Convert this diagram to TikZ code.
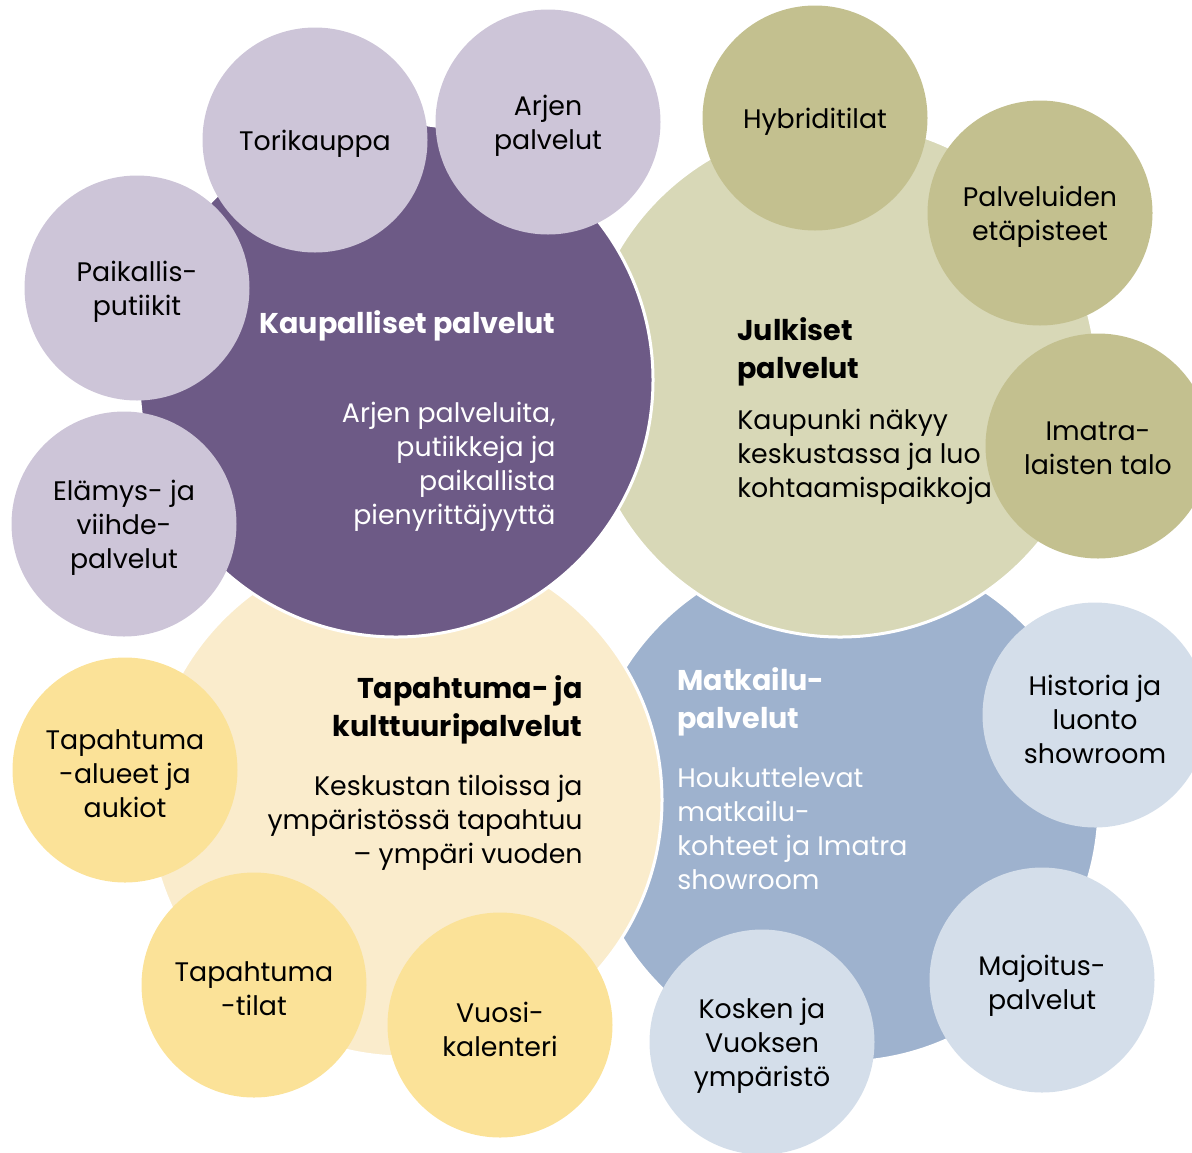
\documentclass[tikz,border=0pt]{standalone}
\usepackage{fontspec}
\setmainfont{Poppins}
\usepackage{xcolor}
\usetikzlibrary{positioning,shapes}

\definecolor{kaupDark}{RGB}{109,90,134}
\definecolor{kaupLight}{RGB}{205,197,216}
\definecolor{julkLight}{RGB}{216,216,183}
\definecolor{julkDark}{RGB}{195,192,143}
\definecolor{tapaLight}{RGB}{250,236,204}
\definecolor{tapaDark}{RGB}{251,226,152}
\definecolor{matkMid}{RGB}{158,178,206}
\definecolor{matkPale}{RGB}{212,222,234}

\begin{document}
\begin{tikzpicture}[x=0.5pt,y=-0.5pt,
  every node/.style={font=\fontsize{13.4}{17}\selectfont,inner sep=0pt}
]

\tikzstyle{big style}=[circle,draw=white,line width=1.5pt,minimum size=257pt,inner sep=0pt]
\tikzstyle{small style}=[circle,minimum size=112.5pt,inner sep=0pt]
\tikzset{small text/.style={align=center,yshift=-2pt},
  title style/.style={font=\fontsize{14.3}{19.2}\selectfont\bfseries}}

\useasboundingbox (0,0) rectangle (1192,1152);
\clip (0,0) rectangle (1192,1152);

% big circles, back to front
\node[big style,fill=matkMid]   (c4) at (842,805) {};
\node[big style,fill=tapaLight] (c3) at (405,800) {};
\node[big style,fill=julkLight] (c2) at (840,380) {};
\node[big style,fill=kaupDark]  (c1) at (396,380) {};

% small circles
\node[small style,fill=kaupLight,label={[small text]center:Paikallis-\\putiikit}]           (s1)  at (137,288)  {};
\node[small style,fill=kaupLight,label={[small text]center:Torikauppa}]                     (s2)  at (315,140)  {};
\node[small style,fill=kaupLight,label={[small text]center:Arjen\\palvelut}]                (s3)  at (548,122)  {};
\node[small style,fill=kaupLight,label={[small text]center:Elämys- ja\\viihde-\\palvelut}]  (s4)  at (124,524)  {};
\node[small style,fill=julkDark,label={[small text]center:Hybriditilat}]                    (s5)  at (815,118)  {};
\node[small style,fill=julkDark,label={[small text]center:Palveluiden\\etäpisteet}]         (s6)  at (1040,213) {};
\node[small style,fill=julkDark,label={[small text,yshift=1pt]center:Imatra-\\laisten talo}] (s7)  at (1098,446) {};
\node[small style,fill=matkPale,label={[small text]center:Historia ja\\luonto\\showroom}]   (s8)  at (1095,715) {};
\node[small style,fill=matkPale,label={[small text,yshift=-1pt]center:Majoitus-\\palvelut}] (s9)  at (1042,980) {};
\node[small style,fill=matkPale,label={[small text]center:Kosken ja\\Vuoksen\\ympäristö}]   (s10) at (762,1042) {};
\node[small style,fill=tapaDark,label={[small text]center:Vuosi-\\kalenteri}]               (s11) at (500,1025) {};
\node[small style,fill=tapaDark,label={[small text]center:Tapahtuma\\-tilat}]               (s12) at (254,985)  {};
\node[small style,fill=tapaDark,label={[small text]center:Tapahtuma\\-alueet ja\\aukiot}]   (s13) at (125,770)  {};

% texts of the big circles
\node[title style,text=white,anchor=east] (kt) at (556,326) {Kaupalliset palvelut};
\node[text=white,align=right,anchor=east] (kb) at (556,467)
  {Arjen palveluita,\\putiikkeja ja\\paikallista\\pienyrittäjyyttä};
\node[title style,align=left,anchor=west] (jt) at (737,352) {Julkiset\\palvelut};
\node[align=left,anchor=west] (jb) at (737,457)
  {Kaupunki näkyy\\keskustassa ja luo\\kohtaamispaikkoja};
\node[title style,align=right,anchor=east] (tt) at (583,710) {Tapahtuma- ja\\kulttuuripalvelut};
\node[align=right,anchor=east] (tb) at (583,823)
  {Keskustan tiloissa ja\\ympäristössä tapahtuu\\– ympäri vuoden};
\node[title style,text=white,align=left,anchor=west] (mt) at (677,702) {Matkailu-\\palvelut};
\node[text=white,align=left,anchor=west] (mb) at (677,829)
  {Houkuttelevat\\matkailu-\\kohteet ja Imatra\\showroom};

\end{tikzpicture}
\end{document}
